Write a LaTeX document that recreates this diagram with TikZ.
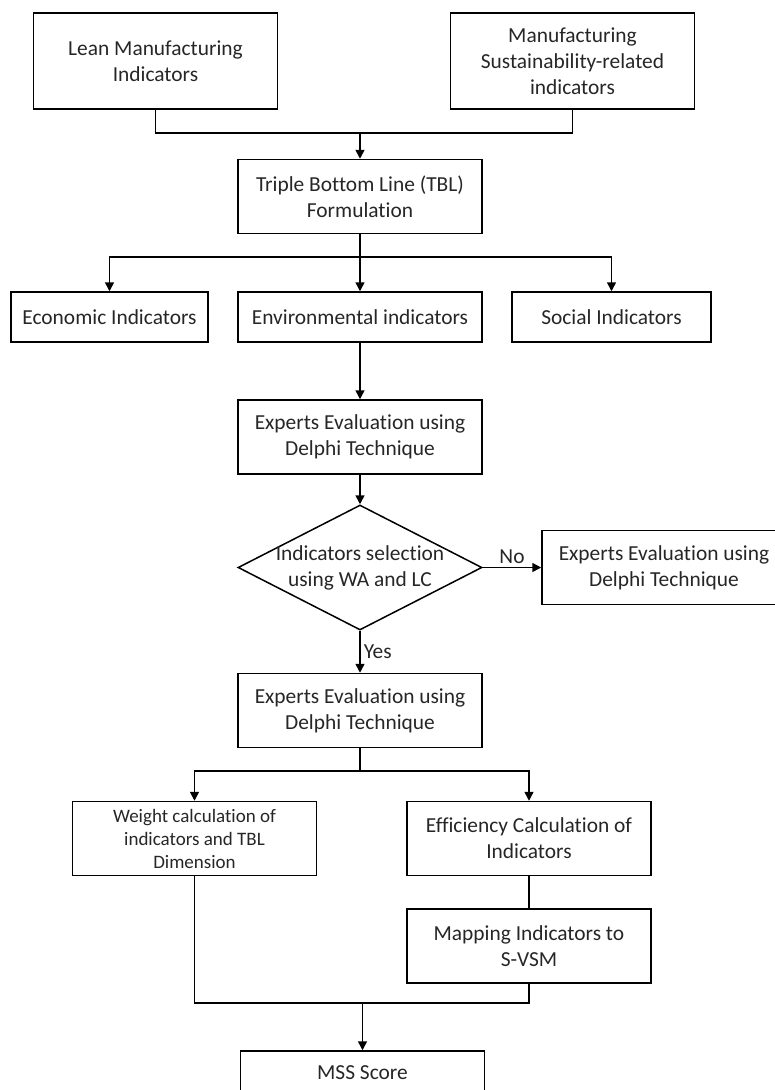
\documentclass[tikz,border=0pt]{standalone}
\usepackage{fontspec}
\setmainfont{Carlito}[Ligatures=NoCommon]
\usetikzlibrary{positioning, arrows.meta, shapes.geometric}

\begin{document}
\begin{tikzpicture}[
    x=1pt, y=-1pt,
    line width=1.5pt,
    box/.style={
        draw, minimum width=244pt, minimum height=74pt,
        font=\fontsize{21.4}{26}\selectfont, text=black!85,
        inner sep=4pt, text centered, align=center
    },
    small/.style={box, font=\fontsize{19}{23}\selectfont},
    dia/.style={draw, diamond, minimum width=244pt, minimum height=125pt, inner sep=0pt},
    txt/.style={font=\fontsize{21.4}{26}\selectfont, text=black!85, align=center, inner sep=0pt},
    arr/.style={-{Triangle[length=9pt, width=9pt]}},
    lbl/.style={font=\fontsize{21.4}{26}\selectfont, text=black!85, inner sep=3pt},
]
\useasboundingbox (0,0) rectangle (774,1090);

% Top row: the two sources of indicators
\node[box, minimum height=96pt] (lean) at (155.5, 61) {Lean Manufacturing\\Indicators};
\node[box, minimum height=96pt] (sust) at (572.5, 61) {Manufacturing\\Sustainability-related\\indicators};
\node[box] (tbl) at (360, 196.5) {Triple Bottom Line (TBL)\\Formulation};

% TBL dimensions
\node[box, minimum width=197pt, minimum height=50pt] (econ) at (109.5, 317) {Economic Indicators};
\node[box, minimum height=50pt] (env) at (360, 317) {Environmental indicators};
\node[box, minimum width=199pt, minimum height=50pt] (soc) at (611.5, 317) {Social Indicators};

% Delphi round and selection
\node[box] (exp1) at (360, 437) {Experts Evaluation using\\Delphi Technique};
\node[dia] (sel) at (360, 567.5) {};
\node[txt] (seltxt) at (sel.center) {Indicators selection\\using WA and LC};
\node[box] (expno) at (664, 567.5) {Experts Evaluation using\\Delphi Technique};
\node[box] (exp2) at (360, 710.5) {Experts Evaluation using\\Delphi Technique};

% Calculation branches
\node[small] (weight) at (194.5, 838.5) {Weight calculation of\\indicators and TBL\\Dimension};
\node[box] (eff) at (529, 838.5) {Efficiency Calculation of\\Indicators};
\node[box] (map) at (529, 946) {Mapping Indicators to\\S-VSM};
\node[box, minimum height=44pt] (mss) at (362.5, 1073) {MSS Score};

% Junction points
\coordinate (jtop) at (360, 133);
\coordinate (jtbl) at (360, 257);
\coordinate (jexp) at (360, 771);
\coordinate (jout) at (362.5, 1003);

% Merge of the two sources into TBL
\draw (lean.south) |- (jtop);
\draw (sust.south) |- (jtop);
\draw[arr] (jtop) -- (tbl);

% Split into the three dimensions
\draw (tbl) -- (jtbl);
\draw[arr] (jtbl) -| (econ.north);
\draw[arr] (jtbl) -- (env);
\draw[arr] (jtbl) -| (soc.north);

% Evaluation and decision
\draw[arr] (env) -- (exp1);
\draw[arr] (exp1) -- (sel);
\draw[arr] (sel.east) -- node[lbl, above] {No} (expno.west);
\draw[arr] (sel.south) -- node[lbl, right] {Yes} (exp2.north);

% Split into weights and efficiency
\draw (exp2) -- (jexp);
\draw[arr] (jexp) -| (weight.north);
\draw[arr] (jexp) -| (eff.north);
\draw (eff) -- (map);

% Merge into the final score
\draw (weight.south) |- (jout);
\draw (map.south) |- (jout);
\draw[arr] (jout) -- (mss);

\end{tikzpicture}
\end{document}
